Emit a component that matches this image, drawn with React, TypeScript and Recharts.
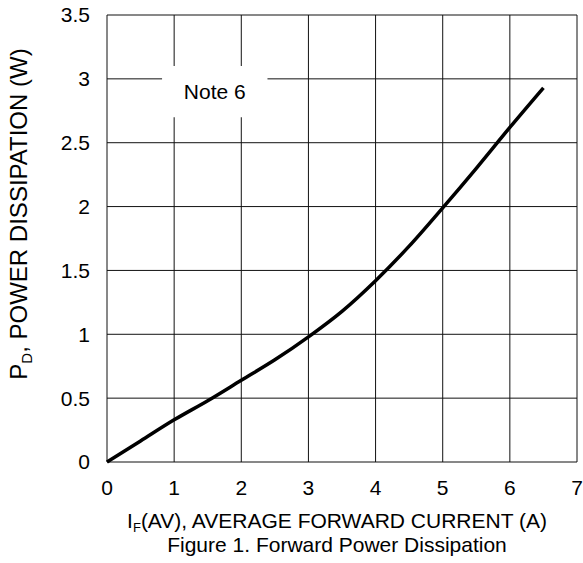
import { CartesianGrid, Label, Line, LineChart, ReferenceArea, XAxis, YAxis } from "recharts"

const current = [0, 0.5, 1, 1.5, 2, 2.5, 3, 3.5, 4, 4.5, 5, 5.5, 6, 6.5]
const power = [0, 0.165, 0.33, 0.48, 0.64, 0.8, 0.98, 1.18, 1.42, 1.69, 1.99, 2.3, 2.62, 2.93]
const xTicks = [0, 1, 2, 3, 4, 5, 6, 7]
const yTicks = [0, 0.5, 1, 1.5, 2, 2.5, 3, 3.5]

const data = current.map((x, i) => ({ x, p: power[i] }))

const font = "'Liberation Sans', Arial, sans-serif"

function XLabel(props: any) {
  const vb = props.viewBox
  const cx = vb.x + vb.width / 2 - 5
  return (
    <g fontFamily={font} fill="#000">
      <text x={cx} y={528} textAnchor="middle" fontSize={21}>
        I<tspan fontSize={13} dy={4}>F</tspan>
        <tspan dy={-4}>(AV), AVERAGE FORWARD CURRENT (A)</tspan>
      </text>
      <text x={cx} y={552} textAnchor="middle" fontSize={21}>
        Figure 1. Forward Power Dissipation
      </text>
    </g>
  )
}

function YLabel() {
  const cx = 27
  const cy = 214
  return (
    <text
      x={cx}
      y={cy}
      transform={`rotate(-90, ${cx}, ${cy})`}
      textAnchor="middle"
      fontSize={24}
      fontFamily={font}
      fill="#000"
    >
      P<tspan fontSize={15} dy={5}>D</tspan>
      <tspan dy={-5}>, POWER DISSIPATION (W)</tspan>
    </text>
  )
}

export default function App() {
  return (
    <div style={{ position: "absolute", left: 0, top: 0, background: "#fff" }}>
      <LineChart width={583} height={563} data={data} margin={{ top: 15, right: 6, bottom: 1, left: 0 }}>
        <CartesianGrid stroke="#111" strokeWidth={1} />
        <XAxis
          dataKey="x"
          type="number"
          domain={[0, 7]}
          ticks={xTicks}
          height={100}
          tickLine={false}
          axisLine={false}
          tickMargin={12}
          tick={{ fill: "#000", fontSize: 21, fontFamily: font }}
        >
          <Label content={XLabel} />
        </XAxis>
        <YAxis
          type="number"
          domain={[0, 3.5]}
          ticks={yTicks}
          width={107}
          tickLine={false}
          axisLine={false}
          tickMargin={11}
          tick={{ fill: "#000", fontSize: 21, fontFamily: font }}
        >
          <Label content={YLabel} />
        </YAxis>
        <ReferenceArea x1={0.82} x2={2.39} y1={2.7} y2={3.1} fill="#fff" fillOpacity={1} stroke="none">
          <Label value="Note 6" position="center" fontSize={21} fontFamily={font} fill="#000" />
        </ReferenceArea>
        <Line
          dataKey="p"
          type="monotone"
          stroke="#000"
          strokeWidth={3.5}
          dot={false}
          isAnimationActive={false}
        />
      </LineChart>
    </div>
  )
}
